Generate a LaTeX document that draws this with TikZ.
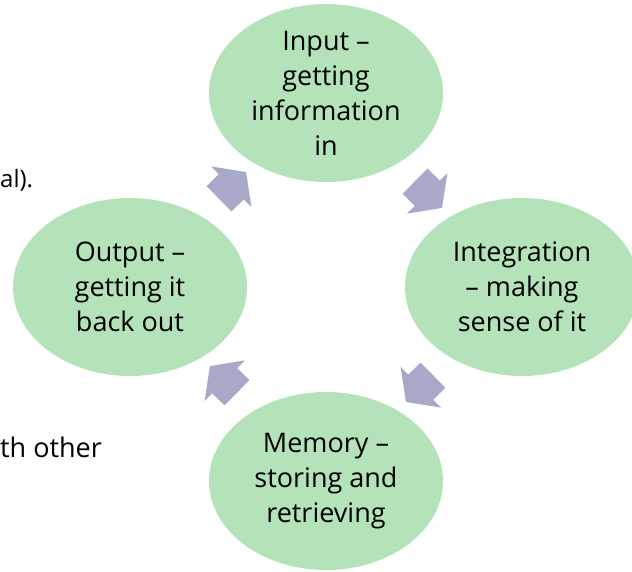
\documentclass[tikz,border=0pt]{standalone}
\usepackage{fontspec}
\setmainfont{Open Sans}
\usetikzlibrary{shapes.geometric,shapes.arrows}

\definecolor{stagegreen}{RGB}{181,227,185}
\definecolor{flowgrey}{RGB}{168,169,201}

\begin{document}
\begin{tikzpicture}[
					x=1pt,y=-1pt,
					stage/.style={ellipse,fill=stagegreen,minimum width=234pt,minimum height=178pt,inner sep=0pt,align=center,font=\fontsize{27}{35}\selectfont},
					flow/.style={single arrow,fill=flowgrey,sloped,allow upside down,inner xsep=0pt,inner ysep=17.5pt,minimum height=38pt,minimum width=57pt,single arrow head extend=11pt,single arrow tip angle=108},
					stray/.style={inner sep=0pt,font=\fontsize{24}{28}\selectfont},
					]
					\useasboundingbox (0,0) rectangle (632,571);
					% the four stages
					\node [stage] (input) at (326,93) {Input –\\ getting\\ information\\ in};
					\node [stage] (integ) at (522,287) {Integration\\ – making\\ sense of it};
					\node [stage] (memory) at (326,481) {Memory –\\ storing and\\ retrieving};
					\node [stage] (output) at (130,287) {Output –\\ getting it\\ back out};
					% block arrows round the cycle
					\path (input) -- node [flow] (a1) {} (integ);
					\path (integ) -- node [flow] (a2) {} (memory);
					\path (memory) -- node [flow] (a3) {} (output);
					\path (output) -- node [flow] (a4) {} (input);
					% cut-off text at the left
					\node [stray,anchor=base west] (txta) at (0,187) {al).};
					\node [stray,anchor=base west,font=\fontsize{27}{30}\selectfont] (txtb) at (0,457) {th other};
				\end{tikzpicture}
\end{document}
